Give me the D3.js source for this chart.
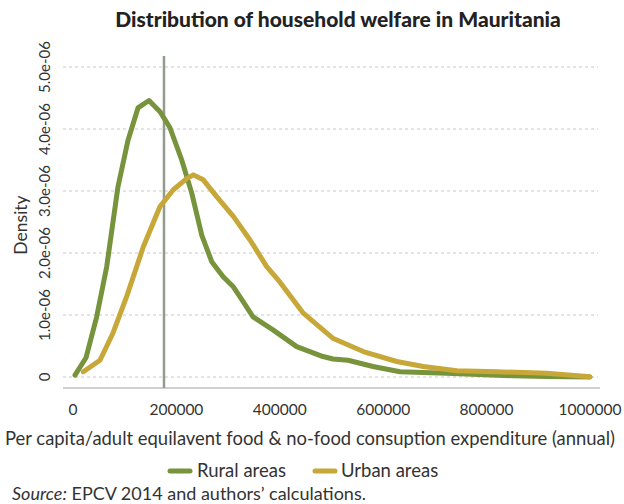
<!DOCTYPE html>
<html><head><meta charset="utf-8">
<script src="https://cdn.jsdelivr.net/npm/d3@7"></script>
<style>
body{margin:0;background:#fff;}
svg{font-family:Lato, "Open Sans", sans-serif;}
</style></head>
<body><svg id="c" width="624" height="504"></svg>
<script>
const rural = [[3900,0.03],[25100,0.31],[45800,0.97],[65200,1.78],[87000,3.07],[106400,3.82],[125700,4.34],[147000,4.46],[168300,4.28],[187600,4.02],[210300,3.50],[229600,2.97],[249000,2.29],[268300,1.86],[290100,1.62],[309500,1.46],[328800,1.22],[348200,0.97],[386800,0.76],[432700,0.49],[483600,0.33],[502900,0.29],[531900,0.27],[580300,0.17],[632500,0.085],[722800,0.06],[851100,0.02],[916800,0.01],[1000000,0.0]];
const urban = [[19900,0.085],[52200,0.27],[77400,0.71],[103900,1.30],[136000,2.10],[168300,2.75],[194000,3.02],[219900,3.20],[232700,3.26],[252000,3.18],[277900,2.91],[310100,2.59],[342400,2.21],[374700,1.78],[400400,1.53],[445500,1.03],[503500,0.62],[561500,0.41],[626100,0.25],[677600,0.17],[742200,0.10],[819500,0.085],[916200,0.06],[1000000,0.005]];
const xTicks = [0,200000,400000,600000,800000,1000000];
const yTicks = [0,1,2,3,4,5];
const yTickLabels = ["0","1.0e-06","2.0e-06","3.0e-06","4.0e-06","5.0e-06"];
const povertyLine = 176000;
const seriesNames = ["Rural areas","Urban areas"];
const colors = ["#77933c","#c6a737"];

const svg = d3.select("#c");
const x = d3.scaleLinear().domain([0,1000000]).range([73,590]);
const y = d3.scaleLinear().domain([0,5]).range([377,67]);

svg.append("g").selectAll("line").data(yTicks).join("line")
  .attr("x1",63).attr("x2",598).attr("y1",d=>y(d)).attr("y2",d=>y(d))
  .attr("stroke","#c8c8c8").attr("stroke-width",1).attr("stroke-dasharray","3,3");

svg.append("line").attr("x1",63).attr("x2",600).attr("y1",388).attr("y2",388)
  .attr("stroke","#cfcfcf").attr("stroke-width",2);

svg.append("g").selectAll("text").data(xTicks).join("text")
  .attr("x",d=>x(d)).attr("y",415).attr("text-anchor","middle")
  .attr("font-size",15.5).attr("fill","#333").text(d=>d3.format("d")(d));

svg.append("g").selectAll("text").data(yTicks).join("text")
  .attr("transform",d=>`translate(50,${y(d)}) rotate(-90)`)
  .attr("text-anchor","middle").attr("font-size",15).attr("fill","#333")
  .text((d,i)=>yTickLabels[i]);

svg.append("line").attr("x1",x(povertyLine)).attr("x2",x(povertyLine)).attr("y1",56).attr("y2",388)
  .attr("stroke","#929c8e").attr("stroke-width",2.5);

const line = d3.line().x(d=>x(d[0])).y(d=>y(d[1])).curve(d3.curveLinear);
[rural,urban].forEach((s,i)=>{
  svg.append("path").datum(s).attr("d",line).attr("fill","none")
    .attr("stroke",colors[i]).attr("stroke-width",5).attr("stroke-linejoin","round").attr("stroke-linecap","round");
});

svg.append("text").attr("x",338).attr("y",27).attr("text-anchor","middle")
  .attr("font-size",21).attr("font-weight","900").attr("fill","#222")
  .text("Distribution of household welfare in Mauritania");

svg.append("text").attr("transform","translate(27,225) rotate(-90)").attr("text-anchor","middle")
  .attr("font-size",17.5).attr("fill","#333").text("Density");

svg.append("text").attr("x",310).attr("y",445).attr("text-anchor","middle")
  .attr("font-size",18.3).attr("fill","#333")
  .attr("textLength",610).attr("lengthAdjust","spacingAndGlyphs")
  .text("Per capita/adult equilavent food & no-food consuption expenditure (annual)");

const leg = [{x:168,tx:197},{x:313,tx:341}];
leg.forEach((l,i)=>{
  svg.append("line").attr("x1",l.x+2).attr("x2",l.x+22).attr("y1",471).attr("y2",471)
    .attr("stroke",colors[i]).attr("stroke-width",5).attr("stroke-linecap","round");
  svg.append("text").attr("x",l.tx).attr("y",477).attr("font-size",18.5).attr("fill","#333").text(seriesNames[i]);
});

const src = svg.append("text").attr("x",12).attr("y",500).attr("font-size",18).attr("fill","#333");
src.append("tspan").attr("font-style","italic").text("Source:");
src.append("tspan").text(" EPCV 2014 and authors’ calculations.");
</script></body></html>
